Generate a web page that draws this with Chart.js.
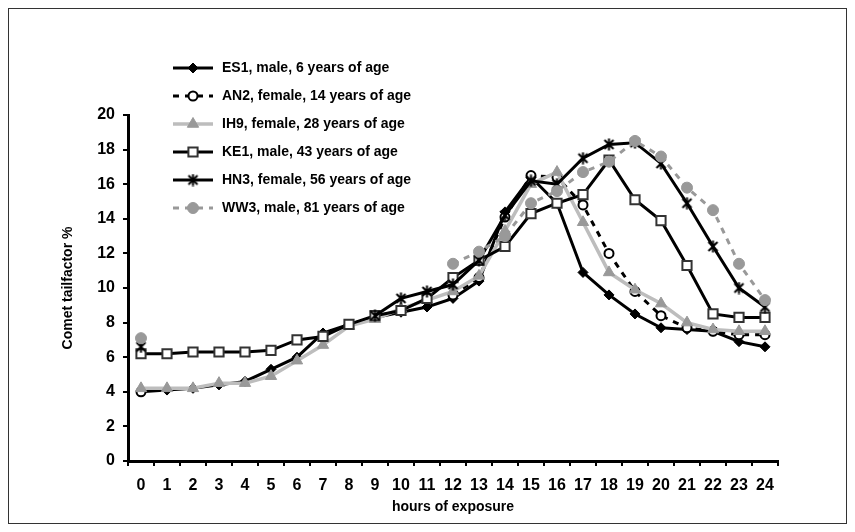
<!DOCTYPE html>
<html>
<head>
<meta charset="utf-8">
<script src="https://cdn.jsdelivr.net/npm/chart.js@4/dist/chart.umd.min.js"></script>
<style>
    html, body { margin: 0; padding: 0; background: #fff; }
    #wrap { position: relative; width: 855px; height: 532px; }
</style>
</head>
<body>
<div id="wrap"><canvas id="cometChart" width="855" height="532"></canvas></div>
<script>
// ===============================
// DADOS
// ===============================
const horas = ['0', '1', '2', '3', '4', '5', '6', '7', '8', '9', '10', '11', '12',
               '13', '14', '15', '16', '17', '18', '19', '20', '21', '22', '23', '24'];

const es1 = [4.0, 4.1, 4.2, 4.4, 4.6, 5.3, 6.0, 7.4, 7.9, 8.3, 8.6, 8.9, 9.4,
             10.4, 14.4, 16.4, 14.9, 10.9, 9.6, 8.5, 7.7, 7.6, 7.5, 6.9, 6.6];
const an2 = [4.0, null, null, null, null, null, null, null, null, null, null, null, 9.6,
             10.6, 14.1, 16.5, 16.4, 14.8, 12.0, 9.8, 8.4, 7.7, 7.5, 7.3, 7.3];
const ih9 = [4.2, 4.2, 4.2, 4.5, 4.5, 4.9, 5.8, 6.7, 7.8, 8.2, 8.8, 9.3, 9.8,
             10.7, 13.3, 16.0, 16.7, 13.8, 10.9, 9.9, 9.1, 8.0, 7.6, 7.5, 7.5];
const ke1 = [6.2, 6.2, 6.3, 6.3, 6.3, 6.4, 7.0, 7.2, 7.9, 8.4, 8.7, 9.4, 10.6,
             11.6, 12.4, 14.3, 14.9, 15.4, 17.4, 15.1, 13.9, 11.3, 8.5, 8.3, 8.3];
const hn3 = [6.6, null, null, null, null, null, null, null, null, 8.4, 9.4, 9.8, 10.2,
             11.6, 14.2, 16.2, 16.0, 17.5, 18.3, 18.4, 17.2, 14.9, 12.4, 10.0, 8.9];
const ww3 = [7.1, null, null, null, null, null, null, null, null, null, null, null, 11.4,
             12.1, 13.0, 14.9, 15.6, 16.7, 17.3, 18.5, 17.6, 15.8, 14.5, 11.4, 9.3];

const yTicks = [0, 2, 4, 6, 8, 10, 12, 14, 16, 18, 20];

const fonte = '"Liberation Sans", Arial, sans-serif';

// marcador "asterisco" (x com traço vertical), como no original
const asterisco = document.createElement('canvas');
asterisco.width = 13;
asterisco.height = 13;
(function () {
    const c = asterisco.getContext('2d');
    c.strokeStyle = '#000';
    c.lineWidth = 2;
    c.beginPath();
    c.moveTo(2, 2); c.lineTo(11, 11);
    c.moveTo(11, 2); c.lineTo(2, 11);
    c.moveTo(6.5, 0.5); c.lineTo(6.5, 12.5);
    c.stroke();
})();

// ===============================
// Plugin: fundo branco + moldura
// ===============================
const molduraPlugin = {
    id: 'moldura',
    beforeDraw(chart) {
        const ctx = chart.ctx;
        ctx.save();
        ctx.fillStyle = '#fff';
        ctx.fillRect(0, 0, chart.width, chart.height);
        ctx.strokeStyle = '#333';
        ctx.lineWidth = 1;
        ctx.strokeRect(8.5, 8.5, chart.width - 17, chart.height - 17);
        ctx.restore();
    }
};

// ===============================
// Plugin: legenda dentro do gráfico
// ===============================
const legendaPlugin = {
    id: 'legendaInterna',
    afterDraw(chart) {
        const ctx = chart.ctx;
        chart.data.datasets.forEach((ds, i) => {
            const y = 68 + i * 28;
            ctx.save();
            ctx.strokeStyle = ds.borderColor;
            ctx.lineWidth = ds.borderWidth;
            ctx.setLineDash(ds.borderDash || []);
            ctx.beginPath();
            ctx.moveTo(173, y);
            ctx.lineTo(213, y);
            ctx.stroke();
            ctx.setLineDash([]);
            ctx.fillStyle = ds.pointBackgroundColor;
            ctx.strokeStyle = ds.pointBorderColor;
            ctx.lineWidth = ds.pointBorderWidth;
            Chart.helpers.drawPoint(ctx, {
                pointStyle: ds.pointStyle,
                radius: ds.pointRadius,
                rotation: 0,
                borderWidth: ds.pointBorderWidth
            }, 193, y);
            ctx.fillStyle = '#000';
            ctx.font = 'bold 14px ' + fonte;
            ctx.textBaseline = 'middle';
            ctx.textAlign = 'left';
            ctx.fillText(ds.label, 222, y);
            ctx.restore();
        });
    }
};

function serie(label, data, cor, opts) {
    return Object.assign({
        label: label,
        data: data,
        borderColor: cor,
        borderWidth: 3,
        pointBackgroundColor: cor,
        pointBorderColor: cor,
        pointBorderWidth: 1,
        pointRadius: 5,
        pointHoverRadius: 5,
        tension: 0,
        fill: false,
        spanGaps: false
    }, opts);
}

const ctx = document.getElementById('cometChart').getContext('2d');

new Chart(ctx, {
    type: 'line',
    data: {
        labels: horas,
        datasets: [
            serie('ES1, male, 6 years of age', es1, '#000', { pointStyle: 'rectRot', pointRadius: 5, order: 5 }),
            serie('AN2, female, 14 years of age', an2, '#000', {
                borderDash: [6, 6], pointStyle: 'circle', pointRadius: 4.5,
                pointBackgroundColor: '#fff', pointBorderWidth: 2, order: 4
            }),
            serie('IH9, female, 28 years of age', ih9, '#bdbdbd', {
                borderWidth: 3.5, pointStyle: 'triangle', pointRadius: 6.5,
                pointBackgroundColor: '#999', pointBorderColor: '#999', order: 3
            }),
            serie('KE1, male, 43 years of age', ke1, '#000', {
                pointStyle: 'rect', pointRadius: 6.5, pointBackgroundColor: '#fff',
                pointBorderColor: '#333', pointBorderWidth: 2, order: 2
            }),
            serie('HN3, female, 56 years of age', hn3, '#000', {
                pointStyle: asterisco, pointRadius: 6, pointBorderWidth: 2, order: 1
            }),
            serie('WW3, male, 81 years of age', ww3, '#999', {
                borderDash: [6, 6], pointStyle: 'circle', pointRadius: 5.5, order: 0
            })
        ]
    },
    options: {
        responsive: false,
        animation: false,
        devicePixelRatio: 1,
        layout: { padding: { left: 56, right: 77, top: 115, bottom: 12 } },
        plugins: {
            legend: { display: false },
            tooltip: { enabled: false }
        },
        scales: {
            x: {
                type: 'category',
                offset: true,
                grid: {
                    display: true, drawOnChartArea: false, drawTicks: true,
                    tickLength: 5, offset: true, color: '#000', lineWidth: 2
                },
                border: { display: true, color: '#000', width: 3 },
                ticks: {
                    color: '#000', autoSkip: false, maxRotation: 0, padding: 10,
                    font: { family: fonte, weight: 'bold', size: 16 }
                },
                title: {
                    display: true, text: 'hours of exposure', color: '#000',
                    font: { family: fonte, weight: 'bold', size: 14 },
                    padding: { top: 4, bottom: 4 }
                },
                afterFit(scale) { scale.height = 59; }
            },
            y: {
                min: 0,
                max: 20,
                afterBuildTicks(scale) { scale.ticks = yTicks.map(v => ({ value: v })); },
                grid: {
                    display: true, drawOnChartArea: false, drawTicks: true,
                    tickLength: 5, color: '#000', lineWidth: 2
                },
                border: { display: true, color: '#000', width: 3 },
                ticks: {
                    color: '#000', padding: 8,
                    font: { family: fonte, weight: 'bold', size: 16 }
                },
                title: {
                    display: true, text: 'Comet tailfactor %', color: '#000',
                    font: { family: fonte, weight: 'bold', size: 14 },
                    padding: { top: 4, bottom: 4 }
                },
                afterFit(scale) { scale.width = 72; }
            }
        }
    },
    plugins: [molduraPlugin, legendaPlugin]
});
</script>
</body>
</html>
